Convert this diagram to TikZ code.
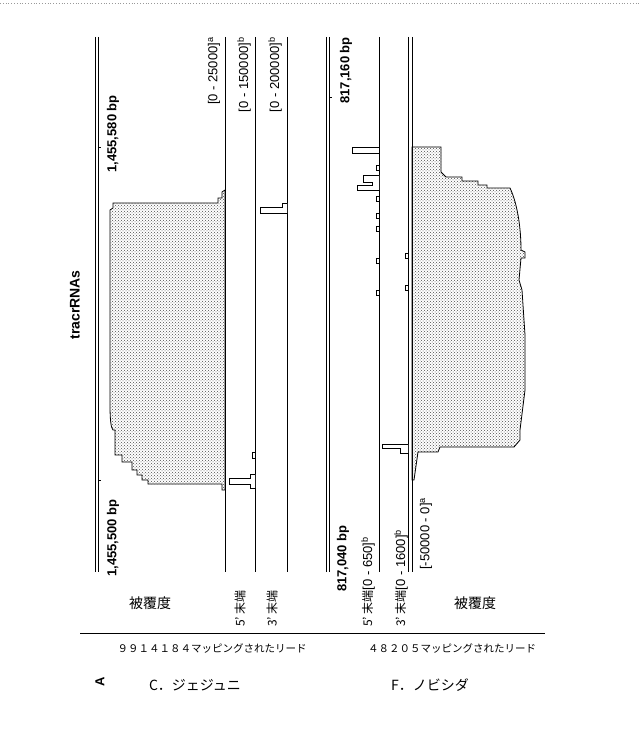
\documentclass[tikz,border=0pt]{standalone}
\usepackage{fontspec}
\setmainfont{Liberation Sans}
\newfontfamily\jp{Noto Sans CJK JP}
\usetikzlibrary{patterns}
\begin{document}
\begin{tikzpicture}[x=1pt,y=1pt,
  gl/.style={line width=0.7pt},
  base/.style={line width=0.8pt},
  cov/.style={draw,line width=0.8pt,pattern=crosshatch dots,pattern color=black!70},
  bar/.style={draw,line width=0.7pt,fill=white},
  bp/.style={rotate=90,font=\bfseries\fontsize{13}{15}\selectfont,inner sep=0pt},
  rng/.style={rotate=90,font=\fontsize{13}{15}\selectfont,inner sep=0pt,anchor=east},
  jlab/.style={font=\jp\fontsize{14}{16}\selectfont,inner sep=0pt},
  jrot/.style={rotate=90,font=\jp\fontsize{12}{14}\selectfont,inner sep=0pt,anchor=west}]
\useasboundingbox (0,0) rectangle (640,-738);
\draw[black!40,dotted,line width=0.8pt] (0,-3) -- (640,-3);
% ---------- left panel ----------
\draw[gl] (95,-37) -- (95,-572);
\draw[gl] (98,-37) -- (98,-572);
\draw (98,-147) -- (101,-147);
\draw (98,-480) -- (101,-480);
\node[bp,anchor=east] (l1) at (113,-95) {1,455,580 bp};
\node[bp,anchor=west] (l2) at (113,-577) {1,455,500 bp};
\node[bp,font=\bfseries\fontsize{14}{16}\selectfont] (tr) at (75,-305) {tracrRNAs};
\filldraw[cov] (225,-190) -- (222,-192) -- (222,-198) -- (218,-198) -- (218,-203) -- (113,-203) -- (113,-208) -- (110,-210) -- (110,-405) .. controls (110,-420) and (111,-428) .. (113,-430) -- (115,-430) -- (115,-455) -- (122,-455) -- (122,-462) -- (132,-462) -- (132,-470) -- (137,-470) -- (137,-475) -- (142,-475) -- (142,-480) -- (148,-480) -- (148,-484) -- (222,-484) -- (222,-490) -- (225,-490) -- cycle;
\draw[base] (225,-37) -- (225,-572);
\draw[base] (255,-37) -- (255,-572);
\draw[base] (287,-37) -- (287,-572);
\draw[bar] (255,-474) -- (250,-474) -- (250,-478) -- (229,-478) -- (229,-484) -- (250,-484) -- (250,-488) -- (255,-488);
\draw[bar] (252,-452) rectangle (255,-458);
\draw[bar] (287,-203) -- (282,-203) -- (282,-207) -- (260,-207) -- (260,-213) -- (287,-213);
\node[rng] (r1) at (214,-37) {[0 - 25000]$^{\mathrm a}$};
\node[rng] (r2) at (244,-37) {[0 - 150000]$^{\mathrm b}$};
\node[rng] (r3) at (275,-37) {[0 - 200000]$^{\mathrm b}$};
\node[jlab] (c1) at (150,-603) {被覆度};
\node[jrot] (e5l) at (240,-627) {5’ 末端};
\node[jrot] (e3l) at (272,-627) {3’ 末端};
% ---------- right panel ----------
\draw[gl] (326,-37) -- (326,-572);
\draw[gl] (329,-37) -- (329,-572);
\draw (329,-97) -- (332,-97);
\node[bp,anchor=east] (r160) at (346,-37) {817,160 bp};
\node[bp,anchor=west] (r040) at (343,-592) {817,040 bp};
\filldraw[cov] (412,-147) -- (441,-147) -- (441,-172) -- (446,-177) -- (462,-177) -- (462,-181) -- (478,-181) -- (478,-185) -- (487,-185) -- (487,-188) -- (510,-188) .. controls (518,-205) and (521,-230) .. (521,-250) -- (525,-252) -- (525,-258) -- (521,-258) -- (519,-280) -- (522,-290) -- (525,-335) -- (525,-390) -- (520,-430) -- (520,-440) -- (514,-447) -- (440,-447) -- (438,-452) -- (418,-452) -- (414,-480) -- (412,-480) -- cycle;
\draw[base] (379,-37) -- (379,-572);
\draw[base] (408,-37) -- (408,-572);
\draw[base] (412,-37) -- (412,-572);
\draw[bar] (352,-147) rectangle (379,-153);
\draw[bar] (379,-175) -- (363,-175) -- (363,-182) -- (372,-182) -- (372,-185) -- (357,-185) -- (357,-190) -- (379,-190);
\foreach \yy in {165,196,213,226,258,290}{\draw[bar] (376,-\yy) rectangle (379,-\yy-5);}
\foreach \yy in {253,285}{\draw[bar] (405,-\yy) rectangle (408,-\yy-5);}
\draw[bar] (408,-444) -- (382,-444) -- (382,-448) -- (400,-448) -- (400,-453) -- (408,-453);
\node[rng,anchor=west] (r4) at (426,-570) {[-50000 - 0]$^{\mathrm a}$};
\node[jrot] (e5r) at (368,-627) {5’ 末端{\rmfamily\fontsize{13}{15}\selectfont[0 - 650]$^{\mathrm b}$}};
\node[jrot] (e3r) at (401,-627) {3’ 末端{\rmfamily\fontsize{13}{15}\selectfont[0 - 1600]$^{\mathrm b}$}};
\node[jlab] (c2) at (475,-603) {被覆度};
% ---------- bottom ----------
\draw[line width=0.9pt] (80,-633) -- (545,-633);
\node[jlab,font=\jp\fontsize{10.5}{12}\selectfont] (m1) at (212,-648) {９９１４１８４マッピングされたリード};
\node[jlab,font=\jp\fontsize{10.5}{12}\selectfont] (m2) at (452,-648) {４８２０５マッピングされたリード};
\node[jlab] (s1) at (195,-685) {C．ジェジュニ};
\node[jlab] (s2) at (430,-685) {F．ノビシダ};
\node[rotate=90,font=\bfseries\fontsize{13}{15}\selectfont] (A) at (100,-682) {A};
\end{tikzpicture}
\end{document}
